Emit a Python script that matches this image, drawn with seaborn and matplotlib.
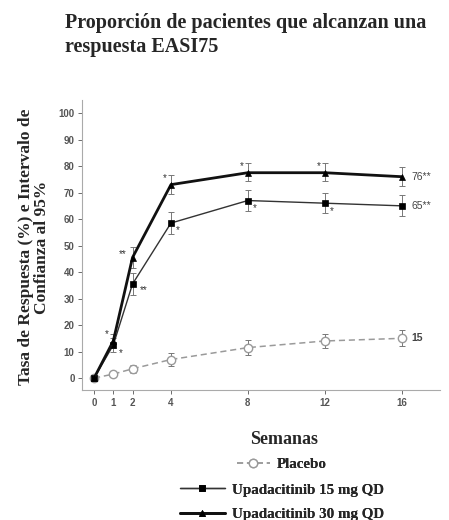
import pandas as pd
import matplotlib
matplotlib.use("Agg")
import matplotlib.pyplot as plt
import seaborn as sns

# Data
weeks = [0, 1, 2, 4, 8, 12, 16]
placebo = [0, 1.5, 3.5, 7, 11.5, 14, 15]
placebo_lo = [0, 0.5, 2, 4.7, 8.8, 11.2, 12]
placebo_hi = [0, 2.5, 5, 9.3, 14.2, 16.8, 18]
upa15 = [0, 12.5, 35.5, 58.5, 67, 66, 65]
upa15_lo = [0, 10, 31.5, 54.5, 63.2, 62.2, 61]
upa15_hi = [0, 15, 39.5, 62.7, 71, 70, 69]
upa30 = [0, 14, 45.5, 73, 77.5, 77.5, 76]
upa30_lo = [0, 11.5, 41.5, 69.5, 74.2, 74.2, 72.5]
upa30_hi = [0, 16.5, 49.5, 76.5, 81, 81, 79.5]

series_names = ["Placebo", "Upadacitinib 15 mg QD", "Upadacitinib 30 mg QD"]
end_labels = ["15", "65**", "76**"]
# significance marks: (week, series, text, dx, dy)
marks = [
    (1, 2, "*", -0.35, 2.5), (1, 1, "*", 0.4, -3),
    (2, 2, "**", -0.5, 1.2), (2, 1, "**", 0.6, -2.2),
    (4, 2, "*", -0.3, 2.5), (4, 1, "*", 0.35, -2.8),
    (8, 2, "*", -0.3, 2.5), (8, 1, "*", 0.35, -2.8),
    (12, 2, "*", -0.3, 2.5), (12, 1, "*", 0.35, -2.8),
]

df = pd.DataFrame({
    "Semana": weeks * 3,
    "Tasa": placebo + upa15 + upa30,
    "Grupo": [series_names[0]] * 7 + [series_names[1]] * 7 + [series_names[2]] * 7,
})
lows = [placebo_lo, upa15_lo, upa30_lo]
highs = [placebo_hi, upa15_hi, upa30_hi]
vals = [placebo, upa15, upa30]

sns.set_style("white")
serif = ["Liberation Serif", "DejaVu Serif"]
sans = ["Liberation Sans", "DejaVu Sans"]

fig = plt.figure(figsize=(4.49, 5.2), dpi=100)
ax = fig.add_axes([0.183, 0.25, 0.797, 0.558])

styles = {
    series_names[0]: dict(color="#9a9a9a", lw=1.1, ls=(0, (4, 2.5)), marker="o", ms=6,
                          mfc="white", mec="#9a9a9a", mew=1.0),
    series_names[1]: dict(color="#333333", lw=1.0, ls="-", marker="s", ms=5,
                          mfc="black", mec="black", mew=0.5),
    series_names[2]: dict(color="#111111", lw=2.0, ls="-", marker="^", ms=5,
                          mfc="black", mec="black", mew=0.5),
}

handles = []
for i, name in enumerate(series_names):
    st = styles[name]
    sub = df[df["Grupo"] == name]
    sns.lineplot(data=sub, x="Semana", y="Tasa", ax=ax, color=st["color"],
                 linewidth=st["lw"], linestyle=st["ls"], marker=st["marker"],
                 markersize=st["ms"], markerfacecolor=st["mfc"],
                 markeredgecolor=st["mec"], markeredgewidth=st["mew"],
                 legend=False, zorder=3 + i)
    handles.append(ax.lines[-1])
    v = vals[i]
    yerr = [[v[k] - lows[i][k] for k in range(7)], [highs[i][k] - v[k] for k in range(7)]]
    ax.errorbar(weeks[1:], v[1:], yerr=[yerr[0][1:], yerr[1][1:]], fmt="none",
                ecolor="#777777", elinewidth=0.7, capsize=2.5, capthick=0.7, zorder=2)
    ax.text(16.5, v[-1], end_labels[i], fontsize=7.5, color="#444444",
            family=sans, va="center", ha="left",
            fontweight="bold" if i == 0 else "normal")

for wk, si, txt, dx, dy in marks:
    k = weeks.index(wk)
    ax.text(wk + dx, vals[si][k] + dy, txt, fontsize=7, color="#333333",
            family=sans, ha="center", va="center")

ax.set_xlim(-0.62, 18)
ax.set_ylim(-4.5, 105)
ax.set_xticks(weeks)
ax.set_yticks(range(0, 101, 10))
ax.tick_params(axis="both", labelsize=7, colors="#555555", length=3, width=0.6,
               direction="out", left=True, bottom=True, pad=2.5)
for lab in ax.get_xticklabels() + ax.get_yticklabels():
    lab.set_family(sans)
    lab.set_fontweight("bold")
for s in ["top", "right"]:
    ax.spines[s].set_visible(False)
for s in ["left", "bottom"]:
    ax.spines[s].set_color("#aaaaaa")
    ax.spines[s].set_linewidth(0.8)
ax.set_xlabel("")
ax.set_ylabel("")

fig.text(0.145, 0.933, "Proporción de pacientes que alcanzan una\nrespuesta EASI75",
         fontsize=14.5, fontweight="bold", family=serif, ha="left", va="center",
         linespacing=1.3)
fig.text(0.075, 0.525, "Tasa de Respuesta (%) e Intervalo de\nConfianza al 95%",
         fontsize=12.5, fontweight="bold", family=serif, rotation=90,
         ha="center", va="center", linespacing=1.0)
fig.text(0.633, 0.154, "Semanas", fontsize=13, fontweight="bold", family=serif,
         ha="center", va="center")

legend_y = [0.107, 0.058, 0.011]
for h, name, y in zip(handles, series_names, legend_y):
    leg = fig.legend([h], [name], loc="center", bbox_to_anchor=(0.628, y), frameon=False,
                     prop={"family": serif, "weight": "bold", "size": 10.8},
                     handlelength=3.0 if name != "Placebo" else 2.2, handletextpad=0.5,
                     borderpad=0.1)
    fig.add_artist(leg)

fig.savefig("out.png", dpi=100)
